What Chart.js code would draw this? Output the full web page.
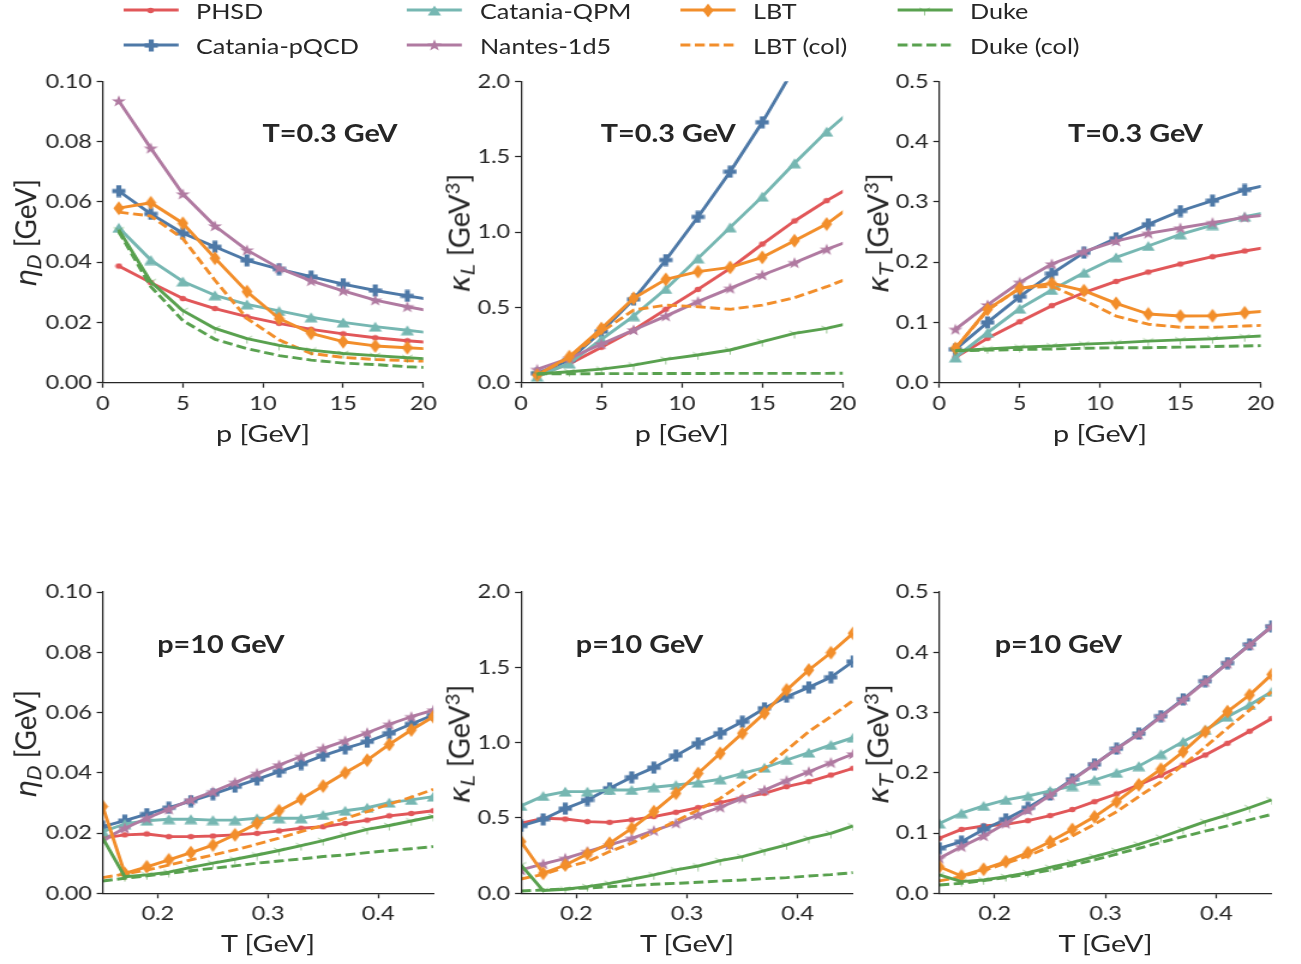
<!DOCTYPE html>
<html><head><meta charset="utf-8">
<script src="https://cdn.jsdelivr.net/npm/chart.js@4.4.0/dist/chart.umd.min.js"></script>
<style>
html,body{margin:0;padding:0;background:#fff;overflow:hidden;width:1301px;height:964px;}
#fig{position:absolute;left:0;top:0;height:964px;transform-origin:0 0;font-family:Lato,sans-serif;color:#262626;}
.t{position:absolute;white-space:nowrap;line-height:1;}
canvas{position:absolute;}
</style></head><body><div id="fig"></div>
<script>
// ---------------- data ----------------
const pVals = [1, 3, 5, 7, 9, 11, 13, 15, 17, 19, 21];
const TVals = [0.15, 0.17, 0.19, 0.21, 0.23, 0.25, 0.27, 0.29, 0.31, 0.33, 0.35, 0.37, 0.39, 0.41, 0.43, 0.45];
const pTicks = [0, 5, 10, 15, 20];
const TTicks = [0.2, 0.3, 0.4];
const etaTicks = [0, 0.02, 0.04, 0.06, 0.08, 0.10];
const kLTicks = [0, 0.5, 1.0, 1.5, 2.0];
const kTTicks = [0, 0.1, 0.2, 0.3, 0.4, 0.5];

const seriesNames = ['PHSD', 'Catania-pQCD', 'Catania-QPM', 'Nantes-1d5', 'LBT', 'LBT (col)', 'Duke', 'Duke (col)'];
const seriesColors = ['#e15759', '#4e79a7', '#76b7b2', '#b07aa1', '#f28e2b', '#f28e2b', '#59a14f', '#59a14f'];
const seriesMarkers = ['dot', 'plus', 'triangle', 'star', 'thindiamond', 'none', 'tri', 'none'];
const seriesDashed = [false, false, false, false, false, true, false, true];

// eta_D vs p (T=0.3 GeV)
const etaP_PHSD = [0.0387, 0.0332, 0.0279, 0.0246, 0.0219, 0.0197, 0.0177, 0.0162, 0.0149, 0.0139, 0.0131];
const etaP_pQCD = [0.0636, 0.0560, 0.0496, 0.0451, 0.0406, 0.0377, 0.0352, 0.0327, 0.0306, 0.0288, 0.0271];
const etaP_QPM = [0.0514, 0.0407, 0.0336, 0.0290, 0.0260, 0.0238, 0.0217, 0.0200, 0.0186, 0.0174, 0.0162];
const etaP_Nantes = [0.0935, 0.0778, 0.0626, 0.0520, 0.0440, 0.0380, 0.0338, 0.0305, 0.0274, 0.0252, 0.0232];
const etaP_LBT = [0.0579, 0.0597, 0.0529, 0.0413, 0.0302, 0.0213, 0.0164, 0.0136, 0.0122, 0.0116, 0.0110];
const etaP_LBTcol = [0.0566, 0.0553, 0.0478, 0.0340, 0.0213, 0.0142, 0.0097, 0.0084, 0.0077, 0.0073, 0.0070];
const etaP_Duke = [0.0507, 0.0335, 0.0239, 0.0180, 0.0146, 0.0124, 0.0108, 0.0097, 0.0090, 0.0083, 0.0077];
const etaP_DukeCol = [0.0501, 0.0319, 0.0206, 0.0144, 0.0113, 0.0090, 0.0075, 0.0065, 0.0060, 0.0053, 0.0049];

// kappa_L vs p (T=0.3 GeV)
const kLP_PHSD = [0.050, 0.124, 0.235, 0.350, 0.487, 0.619, 0.759, 0.920, 1.073, 1.208, 1.330];
const kLP_pQCD = [0.062, 0.150, 0.340, 0.553, 0.814, 1.100, 1.400, 1.728, 2.090, 2.460, 2.840];
const kLP_QPM = [0.040, 0.128, 0.288, 0.442, 0.622, 0.825, 1.031, 1.235, 1.456, 1.666, 1.850];
const kLP_Nantes = [0.088, 0.161, 0.257, 0.350, 0.442, 0.538, 0.626, 0.715, 0.796, 0.885, 0.965];
const kLP_LBT = [0.050, 0.173, 0.360, 0.560, 0.686, 0.737, 0.765, 0.832, 0.942, 1.053, 1.210];
const kLP_LBTcol = [0.050, 0.168, 0.338, 0.482, 0.515, 0.504, 0.487, 0.515, 0.564, 0.637, 0.720];
const kLP_Duke = [0.058, 0.073, 0.090, 0.117, 0.155, 0.184, 0.217, 0.272, 0.327, 0.360, 0.410];
const kLP_DukeCol = [0.058, 0.059, 0.060, 0.060, 0.061, 0.061, 0.062, 0.062, 0.062, 0.062, 0.063];

// kappa_T vs p (T=0.3 GeV)
const kTP_PHSD = [0.042, 0.0736, 0.1012, 0.1278, 0.1493, 0.168, 0.1836, 0.1969, 0.209, 0.2185, 0.2275];
const kTP_pQCD = [0.0553, 0.100, 0.1427, 0.181, 0.2157, 0.2395, 0.2627, 0.2848, 0.302, 0.3197, 0.332];
const kTP_QPM = [0.042, 0.083, 0.1228, 0.1538, 0.1825, 0.208, 0.2268, 0.2461, 0.2616, 0.2754, 0.286];
const kTP_Nantes = [0.0885, 0.129, 0.1665, 0.197, 0.2174, 0.235, 0.2478, 0.2566, 0.2655, 0.2743, 0.280];
const kTP_LBT = [0.057, 0.1217, 0.1565, 0.165, 0.1527, 0.1316, 0.114, 0.1106, 0.111, 0.116, 0.120];
const kTP_LBTcol = [0.057, 0.120, 0.157, 0.160, 0.137, 0.1106, 0.097, 0.092, 0.092, 0.094, 0.096];
const kTP_Duke = [0.053, 0.056, 0.059, 0.061, 0.064, 0.066, 0.069, 0.071, 0.073, 0.076, 0.079];
const kTP_DukeCol = [0.053, 0.054, 0.055, 0.056, 0.057, 0.058, 0.058, 0.059, 0.060, 0.061, 0.062];

// eta_D vs T (p=10 GeV)
const etaT_PHSD = [0.0183, 0.0194, 0.0197, 0.0188, 0.0188, 0.0190, 0.0194, 0.0199, 0.0207, 0.0216, 0.0221, 0.0232, 0.0243, 0.0257, 0.0265, 0.0274];
const etaT_pQCD = [0.0221, 0.0241, 0.0263, 0.0284, 0.0306, 0.0329, 0.0354, 0.0378, 0.0404, 0.0429, 0.0457, 0.0481, 0.0503, 0.0531, 0.0562, 0.0592];
const etaT_QPM = [0.0205, 0.0230, 0.0241, 0.0246, 0.0246, 0.0243, 0.0243, 0.0249, 0.0249, 0.0249, 0.0260, 0.0274, 0.0284, 0.0301, 0.0310, 0.0321];
const etaT_Nantes = [0.0177, 0.0216, 0.0249, 0.0279, 0.0310, 0.0337, 0.0368, 0.0398, 0.0426, 0.0454, 0.0481, 0.0506, 0.0533, 0.0561, 0.0586, 0.0608];
const etaT_LBT = [0.0288, 0.0066, 0.0088, 0.0111, 0.0135, 0.0160, 0.0194, 0.0232, 0.0274, 0.0313, 0.0356, 0.0400, 0.0442, 0.0494, 0.0542, 0.0586];
const etaT_LBTcol = [0.0052, 0.0064, 0.0077, 0.0094, 0.0111, 0.0127, 0.0144, 0.0163, 0.0183, 0.0205, 0.0225, 0.0249, 0.0271, 0.0296, 0.0319, 0.0345];
const etaT_Duke = [0.0183, 0.0055, 0.0061, 0.0070, 0.0086, 0.0100, 0.0113, 0.0127, 0.0142, 0.0158, 0.0175, 0.0194, 0.0212, 0.0225, 0.0240, 0.0255];
const etaT_DukeCol = [0.0041, 0.0050, 0.0058, 0.0066, 0.0075, 0.0083, 0.0091, 0.0100, 0.0107, 0.0114, 0.0122, 0.0127, 0.0135, 0.0142, 0.0148, 0.0155];

// kappa_L vs T (p=10 GeV)
const kLT_PHSD = [0.465, 0.498, 0.493, 0.476, 0.471, 0.487, 0.509, 0.538, 0.569, 0.602, 0.635, 0.664, 0.708, 0.741, 0.785, 0.830];
const kLT_pQCD = [0.447, 0.491, 0.562, 0.619, 0.697, 0.770, 0.834, 0.914, 0.996, 1.062, 1.139, 1.228, 1.305, 1.367, 1.434, 1.538];
const kLT_QPM = [0.580, 0.646, 0.675, 0.675, 0.686, 0.686, 0.704, 0.719, 0.735, 0.757, 0.796, 0.834, 0.885, 0.934, 0.985, 1.033];
const kLT_Nantes = [0.155, 0.195, 0.232, 0.277, 0.321, 0.365, 0.416, 0.465, 0.520, 0.571, 0.630, 0.686, 0.748, 0.807, 0.867, 0.925];
const kLT_LBT = [0.343, 0.133, 0.188, 0.261, 0.332, 0.431, 0.542, 0.664, 0.796, 0.929, 1.062, 1.195, 1.350, 1.482, 1.597, 1.726];
const kLT_LBTcol = [0.095, 0.126, 0.173, 0.210, 0.277, 0.332, 0.409, 0.480, 0.553, 0.630, 0.730, 0.830, 0.951, 1.073, 1.173, 1.279];
const kLT_Duke = [0.188, 0.018, 0.027, 0.044, 0.066, 0.093, 0.122, 0.155, 0.181, 0.217, 0.243, 0.283, 0.321, 0.365, 0.398, 0.447];
const kLT_DukeCol = [0.015, 0.022, 0.029, 0.035, 0.044, 0.051, 0.060, 0.066, 0.073, 0.082, 0.088, 0.097, 0.104, 0.115, 0.124, 0.137];

// kappa_T vs T (p=10 GeV)
const kTT_PHSD = [0.0913, 0.106, 0.1117, 0.1145, 0.1206, 0.129, 0.139, 0.152, 0.1648, 0.180, 0.196, 0.213, 0.2295, 0.249, 0.269, 0.290];
const kTT_pQCD = [0.0747, 0.0857, 0.106, 0.1228, 0.142, 0.164, 0.189, 0.214, 0.240, 0.265, 0.294, 0.322, 0.352, 0.382, 0.413, 0.443];
const kTT_QPM = [0.116, 0.133, 0.145, 0.155, 0.1615, 0.170, 0.178, 0.188, 0.200, 0.211, 0.231, 0.2517, 0.271, 0.293, 0.3125, 0.3346];
const kTT_Nantes = [0.058, 0.0774, 0.0951, 0.116, 0.138, 0.163, 0.188, 0.214, 0.2395, 0.264, 0.293, 0.321, 0.351, 0.3816, 0.412, 0.4425];
const kTT_LBT = [0.044, 0.0288, 0.040, 0.0525, 0.0675, 0.0857, 0.106, 0.127, 0.152, 0.180, 0.206, 0.235, 0.268, 0.3015, 0.329, 0.363];
const kTT_LBTcol = [0.0205, 0.0277, 0.0376, 0.0498, 0.062, 0.0774, 0.095, 0.1145, 0.1355, 0.1604, 0.185, 0.213, 0.243, 0.274, 0.304, 0.3346];
const kTT_Duke = [0.0304, 0.0194, 0.0221, 0.0277, 0.0343, 0.0431, 0.0514, 0.0608, 0.0708, 0.0813, 0.093, 0.106, 0.119, 0.130, 0.142, 0.155];
const kTT_DukeCol = [0.0138, 0.0166, 0.021, 0.026, 0.0315, 0.0387, 0.047, 0.0553, 0.065, 0.0747, 0.0846, 0.094, 0.103, 0.112, 0.122, 0.131];

// ---------------- layout ----------------
const S = 1.2;                 // horizontal stretch of the whole figure
const u = x => x / S;
const fig = document.getElementById('fig');
fig.style.width = u(1301) + 'px';
fig.style.transform = 'scaleX(' + S + ')';

const INK = '#262626';
const TICK_FS = 19.5, LABEL_FS = 24, ANNOT_FS = 24, LEG_FS = 21;
const LINE_W = 2.9, DASH = [8.3, 3.7];

function markerCanvas(type, color) {
  const c = document.createElement('canvas');
  const dims = {dot: [7, 7], plus: [12, 13], triangle: [12, 11], star: [14, 14], thindiamond: [10, 15], tri: [11, 11]}[type];
  if (!dims) return null;
  c.width = dims[0]; c.height = dims[1];
  const g = c.getContext('2d');
  g.fillStyle = color; g.strokeStyle = color;
  const w = dims[0], h = dims[1], cx = w / 2, cy = h / 2;
  g.beginPath();
  if (type === 'dot') { g.arc(cx, cy, 2.8, 0, Math.PI * 2); g.fill(); }
  else if (type === 'plus') {
    const a = 4.2, m = 0.5;
    g.fillRect(m, cy - a / 2, w - 2 * m, a);
    g.fillRect(cx - a / 2, m, a, h - 2 * m);
  } else if (type === 'triangle') {
    g.moveTo(cx, 0.5); g.lineTo(w - 0.5, h - 0.5); g.lineTo(0.5, h - 0.5); g.closePath(); g.fill();
  } else if (type === 'star') {
    const R = 6.3, r = 2.5;
    for (let i = 0; i < 10; i++) {
      const ang = -Math.PI / 2 + i * Math.PI / 5, rr = i % 2 ? r : R;
      const x = cx + rr * Math.cos(ang), y = cy + 0.5 + rr * Math.sin(ang);
      i ? g.lineTo(x, y) : g.moveTo(x, y);
    }
    g.closePath(); g.fill();
  } else if (type === 'thindiamond') {
    g.moveTo(cx, 0.5); g.lineTo(w - 0.5, cy); g.lineTo(cx, h - 0.5); g.lineTo(0.5, cy); g.closePath(); g.fill();
  } else if (type === 'tri') {
    g.globalAlpha = 0.6; g.lineWidth = 1;
    g.moveTo(cx, cy); g.lineTo(cx, cy + 5);
    g.moveTo(cx, cy); g.lineTo(cx - 4.3, cy - 2.5);
    g.moveTo(cx, cy); g.lineTo(cx + 4.3, cy - 2.5);
    g.stroke();
  }
  return c;
}
const markerImgs = seriesMarkers.map((m, i) => markerCanvas(m, seriesColors[i]));

function addText(html, xRef, capY, fs, align, bold) {
  const d = document.createElement('div');
  d.className = 't';
  d.innerHTML = html;
  d.style.fontSize = fs + 'px';
  if (bold) d.style.fontWeight = '700';
  d.style.top = (capY - 0.5 * fs) + 'px';
  d.style.left = u(xRef) + 'px';
  if (align === 'center') d.style.transform = 'translateX(-50%)';
  fig.appendChild(d);
  return d;
}
function addVText(html, xRef, yc, fs, k) {
  const d = document.createElement('div');
  d.className = 't';
  d.innerHTML = html;
  d.style.fontSize = fs + 'px';
  d.style.left = u(xRef) + 'px';
  d.style.top = yc + 'px';
  d.style.transform = 'translate(-50%,-50%) rotate(-90deg) scaleX(' + k + ')';
  fig.appendChild(d);
}

function panel(box, xs, ys, xMin, xMax, xTicks, xFmt, yMax, yTicks, yFmt) {
  const L = u(box.L), R = u(box.R), T = box.T, B = box.B;
  const cl = Math.floor(L) - 70, ct = Math.floor(T) - 16;
  const cw = Math.ceil(R) + 22 - cl, ch = Math.ceil(B) + 40 - ct;
  const c = document.createElement('canvas');
  c.width = cw; c.height = ch;
  c.style.left = cl + 'px'; c.style.top = ct + 'px';
  fig.appendChild(c);
  const yW = L - cl, padTop = T - ct, padRight = cl + cw - R, xH = ct + ch - B;
  const datasets = ys.map((arr, i) => ({
    label: seriesNames[i],
    data: xs.map((x, j) => ({x: x, y: arr[j]})),
    borderColor: seriesColors[i],
    backgroundColor: seriesColors[i],
    borderWidth: LINE_W,
    borderDash: seriesDashed[i] ? DASH : [],
    borderCapStyle: 'butt',
    borderJoinStyle: 'round',
    pointStyle: markerImgs[i] || false,
    pointRadius: markerImgs[i] ? 5 : 0,
    pointBorderWidth: 0,
    tension: 0,
    order: -i,
    clip: 0
  }));
  const tickFont = {family: 'Lato', size: TICK_FS};
  const gridCfg = {display: true, drawOnChartArea: false, drawTicks: true, tickLength: 5, tickWidth: 1.25, tickColor: INK};
  const borderCfg = {display: true, color: INK, width: 1.25, z: 1};
  new Chart(c, {
    type: 'line',
    data: {datasets: datasets},
    options: {
      responsive: false, animation: false, devicePixelRatio: 1, events: [],
      layout: {padding: {left: 0, top: padTop, right: padRight, bottom: 0}},
      plugins: {legend: {display: false}, tooltip: {enabled: false}},
      scales: {
        x: {
          type: 'linear', min: xMin, max: xMax,
          afterBuildTicks: s => { s.ticks = xTicks.map(v => ({value: v})); },
          afterFit: s => { s.height = xH; },
          ticks: {font: tickFont, color: INK, padding: 4, maxRotation: 0, autoSkip: false, callback: v => xFmt(v)},
          grid: gridCfg, border: borderCfg
        },
        y: {
          type: 'linear', min: 0, max: yMax,
          afterBuildTicks: s => { s.ticks = yTicks.map(v => ({value: v})); },
          afterFit: s => { s.width = yW; },
          ticks: {font: tickFont, color: INK, padding: 4, autoSkip: false, callback: v => yFmt(v)},
          grid: gridCfg, border: borderCfg
        }
      }
    }
  });
}

const fmtInt = v => String(Math.round(v));
const fmt1 = v => v.toFixed(1);
const fmt2 = v => v.toFixed(2);

const boxTL = {L: 102.7, R: 423.3, T: 81.3, B: 382.7};
const boxTM = {L: 521.0, R: 842.7, T: 81.3, B: 382.7};
const boxTR = {L: 939.3, R: 1260.7, T: 81.3, B: 382.7};
const boxBL = {L: 102.7, R: 433.3, T: 592.0, B: 893.3};
const boxBM = {L: 521.0, R: 853.0, T: 592.0, B: 893.3};
const boxBR = {L: 939.3, R: 1271.7, T: 592.0, B: 893.3};

panel(boxTL, pVals, [etaP_PHSD, etaP_pQCD, etaP_QPM, etaP_Nantes, etaP_LBT, etaP_LBTcol, etaP_Duke, etaP_DukeCol], 0, 20, pTicks, fmtInt, 0.10, etaTicks, fmt2);
panel(boxTM, pVals, [kLP_PHSD, kLP_pQCD, kLP_QPM, kLP_Nantes, kLP_LBT, kLP_LBTcol, kLP_Duke, kLP_DukeCol], 0, 20, pTicks, fmtInt, 2.0, kLTicks, fmt1);
panel(boxTR, pVals, [kTP_PHSD, kTP_pQCD, kTP_QPM, kTP_Nantes, kTP_LBT, kTP_LBTcol, kTP_Duke, kTP_DukeCol], 0, 20, pTicks, fmtInt, 0.5, kTTicks, fmt1);
panel(boxBL, TVals, [etaT_PHSD, etaT_pQCD, etaT_QPM, etaT_Nantes, etaT_LBT, etaT_LBTcol, etaT_Duke, etaT_DukeCol], 0.15, 0.45, TTicks, fmt1, 0.10, etaTicks, fmt2);
panel(boxBM, TVals, [kLT_PHSD, kLT_pQCD, kLT_QPM, kLT_Nantes, kLT_LBT, kLT_LBTcol, kLT_Duke, kLT_DukeCol], 0.15, 0.45, TTicks, fmt1, 2.0, kLTicks, fmt1);
panel(boxBR, TVals, [kTT_PHSD, kTT_pQCD, kTT_QPM, kTT_Nantes, kTT_LBT, kTT_LBTcol, kTT_Duke, kTT_DukeCol], 0.15, 0.45, TTicks, fmt1, 0.5, kTTicks, fmt1);

// axis titles
const mathI = s => '<span style="font-family:\'DejaVu Sans\';font-style:italic">' + s + '</span>';
const sub = s => '<span style="font-size:0.7em;vertical-align:-0.25em;font-family:\'DejaVu Sans\';font-style:italic">' + s + '</span>';
const sup = s => '<span style="font-size:0.7em;vertical-align:0.5em">' + s + '</span>';
const yTitles = [mathI('η') + sub('D') + ' [GeV]', mathI('κ') + sub('L') + ' [GeV' + sup('3') + ']', mathI('κ') + sub('T') + ' [GeV' + sup('3') + ']'];
const yTitleX = [27.5, 461.3, 879.3];
const yTitleK = [1.16, 1.21, 1.21];
[[boxTL, boxTM, boxTR], [boxBL, boxBM, boxBR]].forEach((row, r) => {
  row.forEach((b, k) => {
    addText(r === 0 ? 'p [GeV]' : 'T [GeV]', (b.L + b.R) / 2, b.B + 50, LABEL_FS, 'center');
    addVText(yTitles[k], yTitleX[k], (b.T + b.B) / 2 + 1, LABEL_FS, yTitleK[k]);
  });
});

// annotations
[330, 668.3, 1135.5].forEach(x => addText('T=0.3 GeV', x, 133, ANNOT_FS, 'center', true));
[220.8, 639.5, 1058.3].forEach(x => addText('p=10 GeV', x, 643.5, ANNOT_FS, 'center', true));

// legend (matplotlib column-major order, 4 columns x 2 rows)
const legHandleX = [123, 407, 680, 897], legTextX = [196, 480, 753, 970], legRowY = [10, 45];
seriesNames.forEach((name, i) => {
  const col = Math.floor(i / 2), row = i % 2;
  const hw = u(55), hh = 18;
  const c = document.createElement('canvas');
  c.width = Math.ceil(hw) + 2; c.height = hh;
  c.style.left = (u(legHandleX[col]) - 1) + 'px';
  c.style.top = (legRowY[row] - hh / 2) + 'px';
  const g = c.getContext('2d');
  g.strokeStyle = seriesColors[i]; g.lineWidth = LINE_W;
  if (seriesDashed[i]) g.setLineDash(DASH);
  g.beginPath(); g.moveTo(1, hh / 2); g.lineTo(1 + hw, hh / 2); g.stroke();
  const m = markerImgs[i];
  if (m) g.drawImage(m, Math.round(1 + hw / 2 - m.width / 2), Math.round(hh / 2 - m.height / 2));
  fig.appendChild(c);
  addText(name, legTextX[col], legRowY[row] + 0.5, LEG_FS, 'left');
});
</script>
</body></html>
